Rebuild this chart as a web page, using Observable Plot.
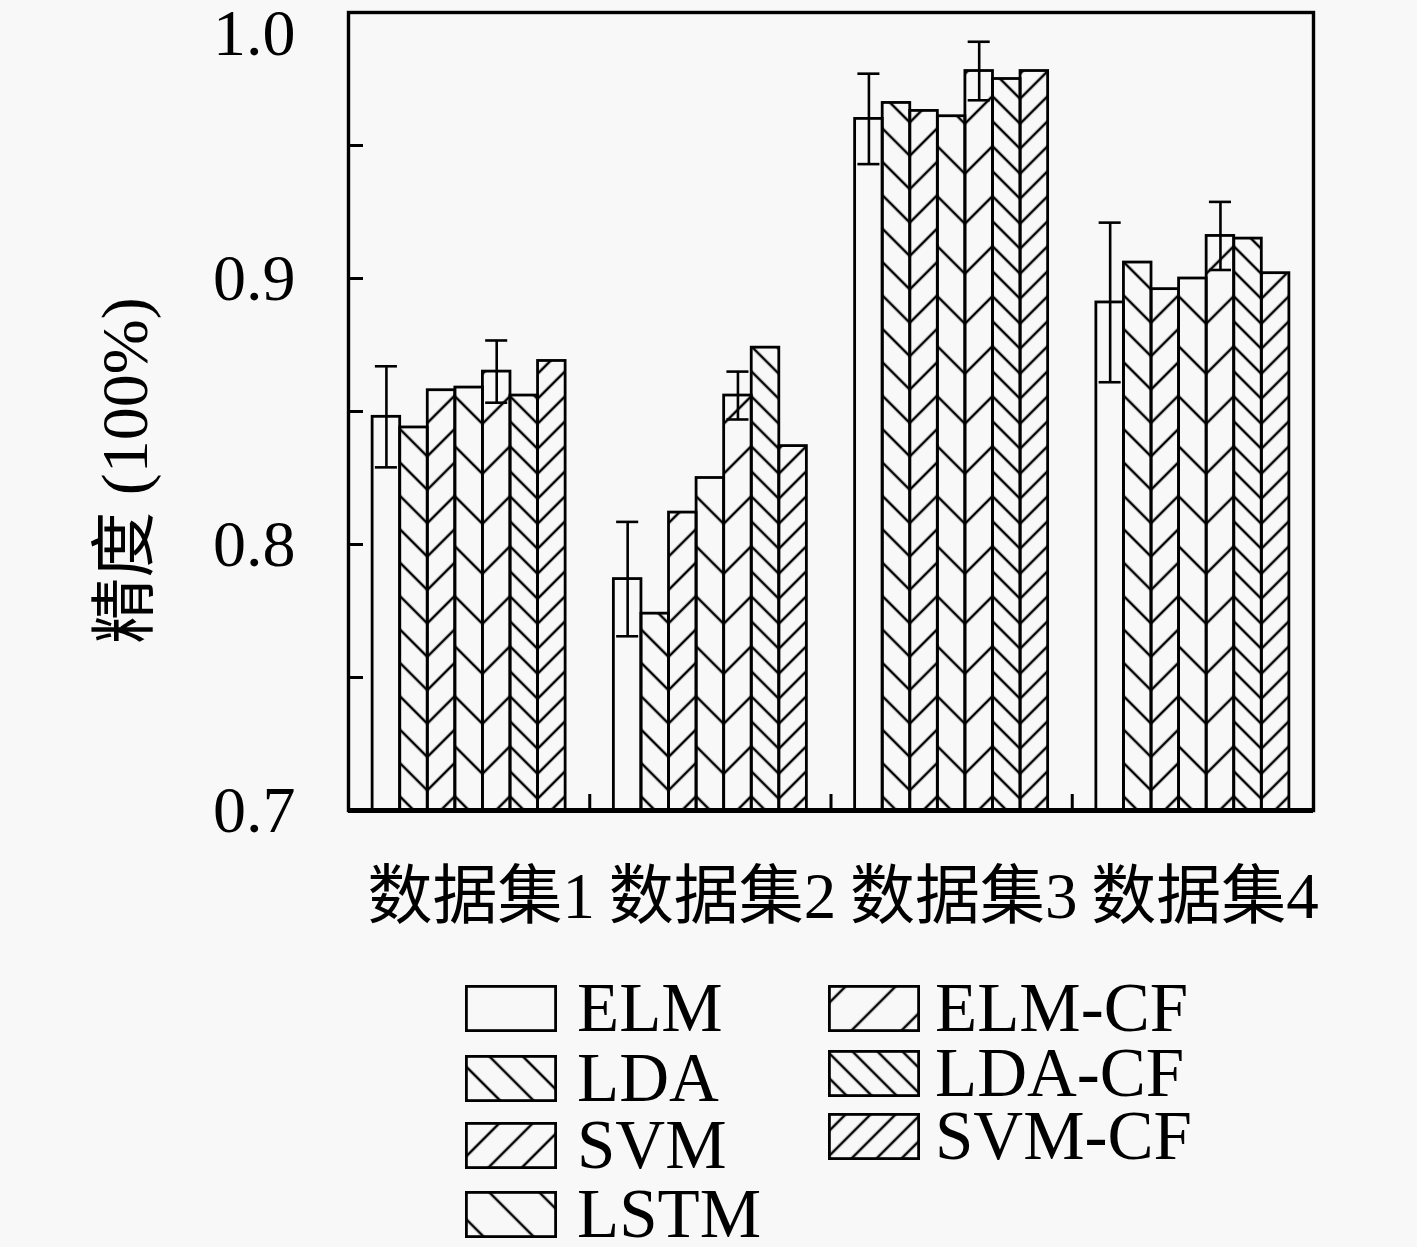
<!DOCTYPE html>
<html><head><meta charset="utf-8">
<script src="https://cdn.jsdelivr.net/npm/d3@7"></script>
<script src="https://cdn.jsdelivr.net/npm/@observablehq/plot@0.6"></script>
<style>
body{margin:0;background:#f8f8f8;}
#wrap{position:relative;width:1417px;height:1247px;overflow:hidden;}
.lt{position:absolute;font-family:"Liberation Serif",serif;font-size:69px;line-height:47px;height:47px;color:#000;white-space:nowrap;}
.ls{position:absolute;}
</style></head><body><div id="wrap"></div>
<script>
// ---- data ----
const groups = ["数据集1", "数据集2", "数据集3", "数据集4"];
const methods = ["ELM", "LDA", "SVM", "LSTM", "ELM-CF", "LDA-CF", "SVM-CF"];
const elm    = [0.848, 0.787, 0.960, 0.891];
const lda    = [0.844, 0.774, 0.966, 0.906];
const svm    = [0.858, 0.812, 0.963, 0.896];
const lstm   = [0.859, 0.825, 0.961, 0.900];
const elmCf  = [0.865, 0.856, 0.978, 0.916];
const ldaCf  = [0.856, 0.874, 0.975, 0.915];
const svmCf  = [0.869, 0.837, 0.978, 0.902];
const elmErr   = [0.019, 0.0215, 0.017, 0.030];
const elmCfErr = [0.0117, 0.009, 0.011, 0.0128];
const yTicks = [0.7, 0.75, 0.8, 0.85, 0.9, 0.95, 1.0];
const yLabels = [0.7, 0.8, 0.9];
const yTopLabel = [1.0];
const yTitle = ["精度 (100%)"];

// ---- styles ----
const hatch = {
  "LDA": ["\\", 33.4], "SVM": ["/", 33.4], "LSTM": ["\\", 50],
  "ELM-CF": ["/", 50], "LDA-CF": ["\\", 25], "SVM-CF": ["/", 25]
};
const bg = "#f8f8f8";
const serif = "'Liberation Serif', 'Noto Sans CJK SC', serif";

const series = [elm, lda, svm, lstm, elmCf, ldaCf, svmCf];
const bw = 0.8 / methods.length;
const rows = [];
groups.forEach((g, gi) => methods.forEach((m, mi) => {
  const x1 = gi + (mi - methods.length / 2) * bw;
  rows.push({group: g, method: m, value: series[mi][gi], x1, x2: x1 + bw});
}));
const errRows = [];
[[0, elmErr], [4, elmCfErr]].forEach(([mi, errs]) => groups.forEach((g, gi) => {
  const v = series[mi][gi], e = errs[gi];
  const x = gi + (mi - methods.length / 2 + 0.5) * bw;
  errRows.push({x, lo: v - e, hi: v + e, c1: x - bw * 0.4, c2: x + bw * 0.4});
}));
const bounds = groups.slice(1).map((g, i) => i + 0.5);

const W = 1417, H = 960, mL = 348, mR = 104, mT = 12, mB = H - 810;
const fw = W - mL - mR, fh = H - mT - mB;

const plot = Plot.plot({
  width: W, height: H, marginLeft: mL, marginRight: mR, marginTop: mT, marginBottom: mB,
  style: {background: "transparent", overflow: "visible", fontFamily: serif},
  x: {domain: [-0.5, groups.length - 0.5], axis: null},
  y: {domain: [0.7, 1.0], axis: null},
  marks: [
    Plot.rect(rows, {x1: "x1", x2: "x2", y1: 0.7, y2: "value", fill: bg, stroke: "black", strokeWidth: 2.8}),
    Plot.ruleX(errRows, {x: "x", y1: "lo", y2: "hi", stroke: "black", strokeWidth: 2.6}),
    Plot.ruleY(errRows, {y: "hi", x1: "c1", x2: "c2", stroke: "black", strokeWidth: 2.6}),
    Plot.ruleY(errRows, {y: "lo", x1: "c1", x2: "c2", stroke: "black", strokeWidth: 2.6}),
    Plot.frame({stroke: "black", strokeWidth: 3.4}),
    Plot.ruleY([0.7], {stroke: "black", strokeWidth: 5}),
    Plot.tickY(yTicks, {y: d => d, insetRight: fw - 15, stroke: "black", strokeWidth: 3}),
    Plot.tickX(bounds, {x: d => d, insetTop: fh - 16, stroke: "black", strokeWidth: 3}),
    Plot.text(yLabels, {y: d => d, text: d => d.toFixed(1), frameAnchor: "left", textAnchor: "end", lineAnchor: "middle", dx: -53, fontSize: 66, fontFamily: serif, fill: "black"}),
    Plot.text(yTopLabel, {y: d => d, text: d => d.toFixed(1), frameAnchor: "left", textAnchor: "end", lineAnchor: "middle", dx: -53, dy: 21, fontSize: 66, fontFamily: serif, fill: "black"}),
    Plot.text(groups, {x: (d, i) => i, text: d => d, frameAnchor: "bottom", textAnchor: "middle", lineAnchor: "middle", dy: 87, dx: 12, fontSize: 65, fontFamily: serif, fill: "black"}),
    Plot.text(yTitle, {text: d => d, frameAnchor: "left", textAnchor: "middle", lineAnchor: "middle", dx: -223, dy: 59, rotate: -90, fontSize: 66, fontFamily: serif, fill: "black"})
  ]
});

const NS = "http://www.w3.org/2000/svg";
function makePattern(defs, id, spec, cx, cy) {
  const [dir, period] = spec;
  const w = period / Math.SQRT2;
  const p = document.createElementNS(NS, "pattern");
  p.setAttribute("id", id);
  p.setAttribute("patternUnits", "userSpaceOnUse");
  p.setAttribute("width", w);
  p.setAttribute("height", 10);
  p.setAttribute("patternTransform", `translate(${cx},${cy}) rotate(${dir === "/" ? 45 : -45})`);
  for (const lx of [0, w]) {
    const l = document.createElementNS(NS, "line");
    l.setAttribute("x1", lx); l.setAttribute("x2", lx);
    l.setAttribute("y1", -1); l.setAttribute("y2", 11);
    l.setAttribute("stroke", "black"); l.setAttribute("stroke-width", 2.5);
    p.appendChild(l);
  }
  defs.appendChild(p);
}

const defs = document.createElementNS(NS, "defs");
plot.insertBefore(defs, plot.firstChild);
const rects = plot.querySelectorAll('g[aria-label="rect"] rect');
rects.forEach((r, i) => {
  const spec = hatch[rows[i].method];
  if (!spec) return;
  const x = +r.getAttribute("x"), w = +r.getAttribute("width");
  makePattern(defs, "h" + i, spec, x + w / 2, mT + fh);
  r.setAttribute("fill", `url(#h${i})`);
});

const wrap = document.getElementById("wrap");
wrap.appendChild(plot);

// legend
const legendCols = [
  {sx: 465, tx: 577, tops: [985, 1055, 1122, 1191], items: methods.slice(0, 4)},
  {sx: 828, tx: 935, tops: [985, 1050, 1113], items: methods.slice(4)}
];
legendCols.forEach((col, ci) => col.items.forEach((m, k) => {
  const s = document.createElementNS(NS, "svg");
  s.setAttribute("width", 92); s.setAttribute("height", 47);
  s.setAttribute("class", "ls");
  s.style.left = col.sx + "px"; s.style.top = col.tops[k] + "px";
  const d = document.createElementNS(NS, "defs");
  s.appendChild(d);
  const rect = document.createElementNS(NS, "rect");
  rect.setAttribute("x", 1.4); rect.setAttribute("y", 1.4);
  rect.setAttribute("width", 89.2); rect.setAttribute("height", 44.2);
  rect.setAttribute("stroke", "black"); rect.setAttribute("stroke-width", 2.8);
  if (hatch[m]) {
    const id = `lg${ci}_${k}`;
    makePattern(d, id, hatch[m], 46, 23);
    rect.setAttribute("fill", `url(#${id})`);
  } else rect.setAttribute("fill", bg);
  s.appendChild(rect);
  wrap.appendChild(s);
  const t = document.createElement("div");
  t.className = "lt";
  t.textContent = m;
  t.style.left = col.tx + "px"; t.style.top = col.tops[k] + "px";
  wrap.appendChild(t);
}));
</script></body></html>
